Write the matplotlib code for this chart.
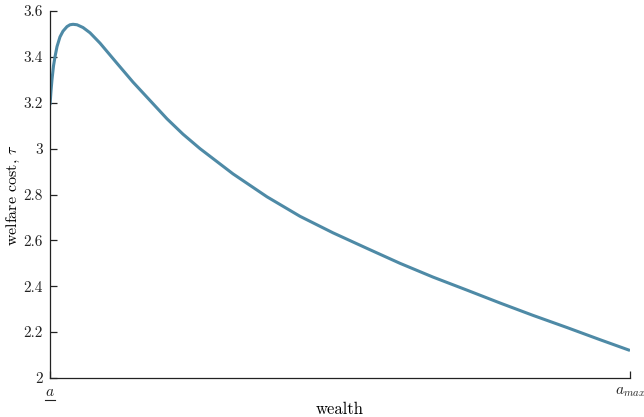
import matplotlib
matplotlib.use("Agg")
import matplotlib.pyplot as plt
from matplotlib.lines import Line2D

# wealth, normalized between a_min (0) and a_max (1)
wealth = [0.0, 0.0017, 0.0034, 0.0060, 0.0086, 0.0121, 0.0172, 0.0224, 0.0293,
          0.0345, 0.0397, 0.0466, 0.0569, 0.0690, 0.0862,
          0.1155, 0.1431, 0.1724, 0.2017, 0.2293, 0.2586, 0.3155, 0.3741, 0.4310,
          0.4879, 0.5466, 0.6034, 0.6603, 0.7190, 0.7759, 0.8328, 0.8914, 0.9483, 1.0]
welfare_cost = [3.19, 3.25, 3.30, 3.36, 3.40, 3.445, 3.487, 3.512, 3.532,
                3.540, 3.542, 3.540, 3.528, 3.505, 3.46,
                3.372, 3.29, 3.21, 3.13, 3.063, 3.0, 2.89, 2.79, 2.705,
                2.633, 2.565, 2.50, 2.44, 2.383, 2.327, 2.273, 2.22, 2.167, 2.12]
yticks = [2, 2.2, 2.4, 2.6, 2.8, 3, 3.2, 3.4, 3.6]
ytick_labels = ["2", "2.2", "2.4", "2.6", "2.8", "3", "3.2", "3.4", "3.6"]
xtick_labels = [r"$a$", r"$a_{max}$"]

plt.rcParams["font.family"] = "serif"
plt.rcParams["font.serif"] = ["cmr10"]
plt.rcParams["mathtext.fontset"] = "cm"
plt.rcParams["axes.formatter.use_mathtext"] = True
plt.rcParams["axes.unicode_minus"] = False

fig = plt.figure(figsize=(6.44, 4.17), dpi=100)
ax = fig.add_axes([50/644, 39/417, 580/644, 367/417])
ax.plot(wealth, welfare_cost, color="#4e8aa6", lw=2.2,
        solid_capstyle="butt", solid_joinstyle="round")
ax.set_xlim(0, 1)
ax.set_ylim(2, 3.6)
ax.set_yticks(yticks)
ax.set_yticklabels(ytick_labels)
ax.set_xticks([0, 1])
ax.set_xticklabels(xtick_labels)
for s in ["top", "right"]:
    ax.spines[s].set_visible(False)
for s in ["left", "bottom"]:
    ax.spines[s].set_linewidth(0.9)
    ax.spines[s].set_color("#222222")
ax.tick_params(direction="in", length=5, width=0.9, labelsize=11, colors="#222222", pad=5)
ax.set_xlabel("wealth", fontsize=12, labelpad=2)
ax.set_ylabel(r"welfare cost, $\tau$", fontsize=11.5, labelpad=1)

# underline the lower bound tick label
fig.canvas.draw()
lab = ax.get_xticklabels()[0]
bb = lab.get_window_extent(renderer=fig.canvas.get_renderer())
y_line = bb.y0 - 1.5
fig.add_artist(Line2D([bb.x0 / 644, bb.x1 / 644], [y_line / 417, y_line / 417],
                      transform=fig.transFigure, color="#222222", lw=0.8))
fig.savefig("out.png", dpi=100)
